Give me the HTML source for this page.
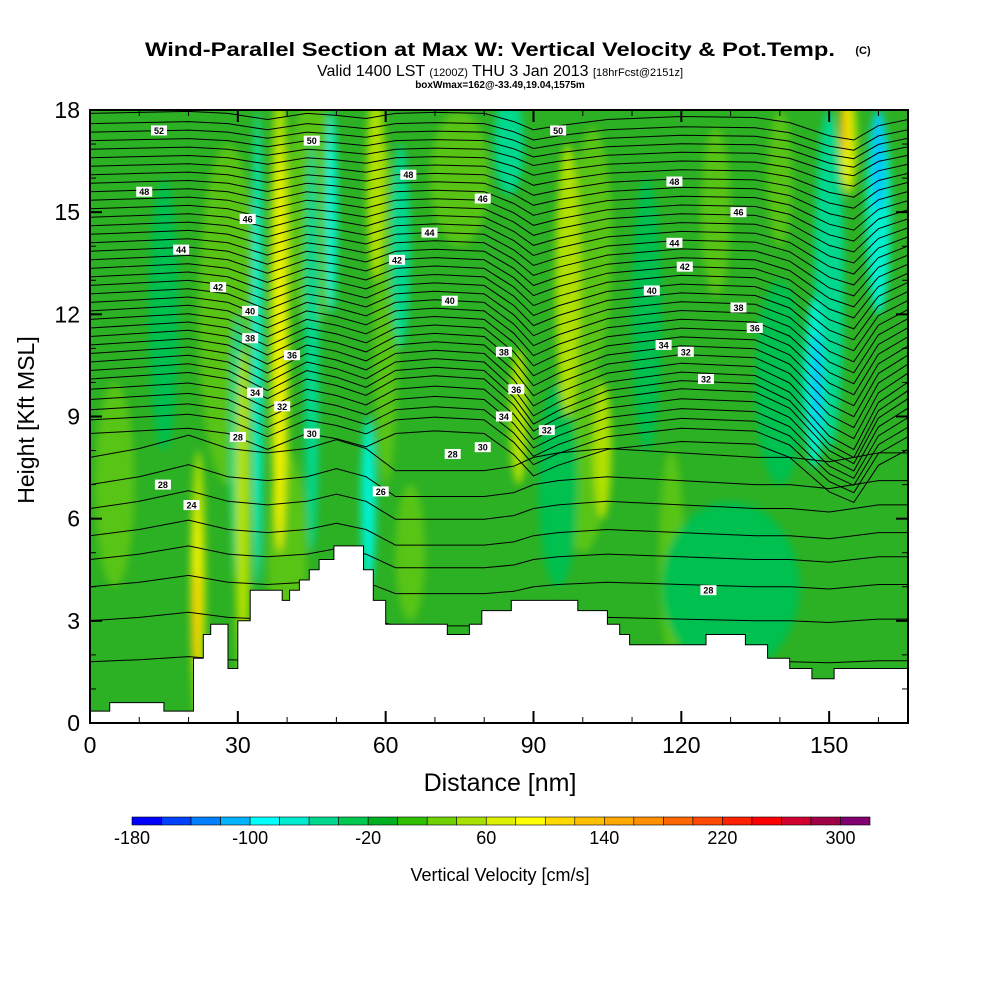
<!DOCTYPE html>
<html><head><meta charset="utf-8"><style>
html,body{margin:0;padding:0;background:#fff}
svg{display:block;font-family:"Liberation Sans",sans-serif}
</style></head><body>
<svg id="chart" width="1000" height="1000" viewBox="0 0 1000 1000">
<defs>
<clipPath id="plotclip"><rect x="90" y="110" width="818" height="613"/></clipPath>
<filter id="blur" x="-20%" y="-20%" width="140%" height="140%"><feGaussianBlur stdDeviation="4"/></filter>
</defs>
<text x="490" y="56" text-anchor="middle" font-size="19" font-weight="bold" textLength="690" lengthAdjust="spacingAndGlyphs">Wind-Parallel Section at Max W: Vertical Velocity &amp; Pot.Temp.</text>
<text x="863" y="54" text-anchor="middle" font-size="11" font-weight="bold">(C)</text>
<text x="500" y="76" text-anchor="middle" font-size="16">Valid 1400 LST <tspan font-size="11">(1200Z)</tspan> THU 3 Jan 2013 <tspan font-size="11">[18hrFcst@2151z]</tspan></text>
<text x="500" y="88" text-anchor="middle" font-size="10" font-weight="bold">boxWmax=162@-33.49,19.04,1575m</text>
<g id="field" clip-path="url(#plotclip)"></g>
<g id="contours" clip-path="url(#plotclip)"></g>
<g id="terrain"></g>
<g id="labels"></g>
<rect x="90" y="110" width="818" height="613" fill="none" stroke="#000" stroke-width="2"/>
<g id="axes"></g>
<text x="500" y="791" text-anchor="middle" font-size="25">Distance [nm]</text>
<text transform="translate(34,420) rotate(-90)" text-anchor="middle" font-size="23">Height [Kft MSL]</text>
<g id="colorbar"></g>
<text x="500" y="881" text-anchor="middle" font-size="18">Vertical Velocity [cm/s]</text>
</svg>
<script>
// ---- data ----
const xTicks=[0,30,60,90,120,150];
const yTicks=[0,3,6,9,12,15,18];
const cbLevels=[-180,-160,-140,-120,-100,-80,-60,-40,-20,0,20,40,60,80,100,120,140,160,180,200,220,240,260,280,300,320];
const cbLabels=[-180,-100,-20,60,140,220,300];
const cbColors=["#0000ff","#0040ff","#0080ff","#00b4ff","#00ffff","#00ecd0","#00d890","#00c850","#00b020","#30c000","#70d000","#a8e000","#dcf000","#ffff00","#ffd800","#ffc000","#ffa800","#ff9000","#ff6800","#ff4800","#ff2000","#ff0000","#d00030","#a00048","#800070"];
const terrX=[0,4,4,15,15,21,21,23,23,24.5,24.5,28,28,30,30,32.5,32.5,39,39,40.5,40.5,42.5,42.5,44.5,44.5,46.5,46.5,49.5,49.5,55.5,55.5,57.5,57.5,60,60,72.5,72.5,77,77,79.5,79.5,85.5,85.5,99,99,105,105,107.5,107.5,109.5,109.5,125,125,133,133,137.5,137.5,142,142,146.5,146.5,151,151,166];
const terrH=[0.35,0.35,0.6,0.6,0.35,0.35,1.9,1.9,2.6,2.6,2.9,2.9,1.6,1.6,3.0,3.0,3.9,3.9,3.6,3.6,3.9,3.9,4.2,4.2,4.5,4.5,4.8,4.8,5.2,5.2,4.5,4.5,3.6,3.6,2.9,2.9,2.6,2.6,2.9,2.9,3.3,3.3,3.6,3.6,3.3,3.3,2.9,2.9,2.6,2.6,2.3,2.3,2.6,2.6,2.3,2.3,1.9,1.9,1.6,1.6,1.3,1.3,1.6,1.6];
const blobX=[28,45,60,75,100,102,118,127,140,40,5,65,130,140,113,15,95,30,45,63,85,150,22,31,38.5,58,97,104,154,87,21.5,38.5,153.5,21.5,153,34,49,56.5,147,160,160,147.5];
const blobY=[12,15,12,16,8,14,5,15,16,5,7,5,4,10,12,12,7,8,11,14,17,13,4,6,12,16,13,8,17,9,4,11,17,3,17.5,11,15,6.5,10,15,16.5,10];
const blobRX=[6,5,2.5,6,5,4,2.5,3,2.5,4,4,3,14,5,3,3,4,1.5,1.5,2,3,3,1.5,1.5,2,1.8,2.5,1.8,1.8,1.8,1,1.2,1,0.6,0.7,1,1.2,1.5,2,2.5,1.2,0.8];
const blobRY=[5,3.5,5,2,3,3.5,3,2.5,2,3,3,2,2.5,3,4,4,3,4,6,3,1.5,5,4,5,7,3,4,2,1.5,2,2.5,6,1.3,1.5,0.8,7,3,2.5,2.5,3,1.5,1.5];
const blobC=["#58c414","#58c414","#58c414","#58c414","#58c414","#58c414","#58c414","#58c414","#58c414","#58c414","#58c414","#58c414","#05c050","#05c050","#05c050","#05c050","#05c050","#00d890","#00d890","#00d890","#00d890","#00d890","#b0e000","#b0e000","#b0e000","#b0e000","#b0e000","#b0e000","#b0e000","#b0e000","#f0f000","#f0f000","#f0f000","#ffc000","#ffc000","#00f0d0","#00f0d0","#00f0d0","#00f0d0","#00f0d0","#00c0ff","#00c0ff"];
const stX=[0,10,20,28,36,44,50,56,62,70,80,86,90,95,105,120,135,142,150,155,160,166];
const stDipUpper=[0,0.1,0.2,0,-0.6,0,-0.2,-0.5,0,0.1,0,-0.8,-1.6,-1.2,-0.6,-0.3,-0.4,-0.9,-2.2,-2.6,-1.2,-0.6];
const stDipLower=[0,0.2,0.5,0.2,0.1,0.2,0.4,0.2,-0.3,-0.3,-0.3,-0.2,0,0.1,0.2,0.1,0,0,-0.1,0,0.1,0.1];
const lineBase=[17.9,17.6,17.35,17.1,16.85,16.6,16.35,16.1,15.85,15.6,15.35,15.1,14.85,14.6,14.35,14.1,13.85,13.6,13.35,13.1,12.85,12.6,12.35,12.1,11.85,11.6,11.35,11.1,10.85,10.6,10.35,10.1,9.8,9.5,9.2,8.9,8.5,7.8,7.0,6.3,5.5,4.8,4.0,3.0,1.8];
const labX=[14,11,45,32,18.5,26,32.5,32.5,41,33.5,39,30,45,14.8,20.6,59,64.6,79.7,68.9,62.3,73,84,86.5,84,92.7,73.6,79.7,95,118.6,131.6,118.6,120.7,114,131.6,134.9,116.4,120.9,125,125.5];
const labY=[17.4,15.6,17.1,14.8,13.9,12.8,12.1,11.3,10.8,9.7,9.3,8.4,8.5,7.0,6.4,6.8,16.1,15.4,14.4,13.6,12.4,10.9,9.8,9.0,8.6,7.9,8.1,17.4,15.9,15.0,14.1,13.4,12.7,12.2,11.6,11.1,10.9,10.1,3.9];
const labT=["52","48","50","46","44","42","40","38","36","34","32","28","30","28","24","26","48","46","44","42","40","38","36","34","32","28","30","50","48","46","44","42","40","38","36","34","32","32","28"];
// ---- scales ----
const X0=90,X1=908,Y0=723,Y1=110;
const sx=v=>X0+(v/166)*(X1-X0);
const sy=v=>Y0-(v/18)*(Y0-Y1);
const NS="http://www.w3.org/2000/svg";
function mk(tag,attrs,parent){const e=document.createElementNS(NS,tag);for(const k in attrs)e.setAttribute(k,attrs[k]);parent.appendChild(e);return e;}
// field
const field=document.getElementById('field');
const bg=mk('rect',{x:X0,y:Y1,width:X1-X0,height:Y0-Y1,fill:'#2cb024'},field);


const bg2=mk('g',{filter:'url(#blur)'},field);
for(let i=0;i<blobX.length;i++){
  const e=mk('ellipse',{cx:sx(blobX[i]),cy:sy(blobY[i]),rx:(blobRX[i]/166)*(X1-X0),ry:(blobRY[i]/18)*(Y0-Y1),fill:blobC[i]},bg2);
  
  
}
// contours
const cg=document.getElementById('contours');
for(let j=0;j<lineBase.length;j++){
  const b=lineBase[j];
  let wU=b>=8?Math.max(0.3,1-Math.abs(b-10.5)/9):0;
  let wL=b<8?1:0;
  let d='';
  for(let k=0;k<stX.length;k++){
    const h=b+wU*stDipUpper[k]+wL*stDipLower[k]*(b/6);
    d+=(k?'L':'M')+sx(stX[k]).toFixed(1)+','+sy(h).toFixed(1);
  }
  const p=mk('path',{d:d,fill:'none',stroke:'#000','stroke-width':1},cg);
  
  
}
// terrain
const tg=document.getElementById('terrain');
let td='M'+sx(0)+','+sy(0);
for(let i=0;i<terrX.length;i++) td+='L'+sx(terrX[i]).toFixed(1)+','+sy(terrH[i]).toFixed(1);
td+='L'+sx(166)+','+sy(0)+'Z';
const tp=mk('path',{d:td,fill:'#fff',stroke:'#000','stroke-width':1},tg);


// labels
const lg=document.getElementById('labels');
for(let i=0;i<labX.length;i++){
  const x=sx(labX[i]),y=sy(labY[i]);
  const r=mk('rect',{x:x-8,y:y-5,width:16,height:10,fill:'#fff'},lg);
  
  
  const t=mk('text',{x:x,y:y+3.5,'text-anchor':'middle','font-size':9,'font-weight':'bold'},lg);
  t.textContent=labT[i];
  
  
}
// axes
const ag=document.getElementById('axes');
for(let v=0;v<=160;v+=10){
  const len=v%30===0?12:6;
  const l1=mk('line',{x1:sx(v),x2:sx(v),y1:Y0,y2:Y0-len,stroke:'#000','stroke-width':v%30===0?2:1},ag);
  
  
  const l2=mk('line',{x1:sx(v),x2:sx(v),y1:Y1,y2:Y1+len,stroke:'#000','stroke-width':v%30===0?2:1},ag);
  
  
}
xTicks.forEach(v=>{
  const t=mk('text',{x:sx(v),y:753,'text-anchor':'middle','font-size':23},ag);
  t.textContent=v;
  
  
});
for(let v=0;v<=18;v+=1){
  const len=v%3===0?12:6;
  const l=mk('line',{x1:X0,x2:X0+len,y1:sy(v),y2:sy(v),stroke:'#000','stroke-width':v%3===0?2:1},ag);
  
  
  const l2=mk('line',{x1:X1,x2:X1-len,y1:sy(v),y2:sy(v),stroke:'#000','stroke-width':v%3===0?2:1},ag);
  
  
}
yTicks.forEach(v=>{
  const t=mk('text',{x:80,y:sy(v)+8,'text-anchor':'end','font-size':23},ag);
  t.textContent=v;
  
  
});
// colorbar
const cb=document.getElementById('colorbar');
const CB0=132,CB1=870,cbY=817,cbH=8;
const cx=v=>CB0+(v-cbLevels[0])/(cbLevels[cbLevels.length-1]-cbLevels[0])*(CB1-CB0);
for(let i=0;i<cbColors.length;i++){
  const r=mk('rect',{x:cx(cbLevels[i]),y:cbY,width:cx(cbLevels[i+1])-cx(cbLevels[i]),height:cbH,fill:cbColors[i],stroke:'#000','stroke-width':0.6},cb);
  
  
}
cbLabels.forEach(v=>{
  const t=mk('text',{x:cx(v),y:844,'text-anchor':'middle','font-size':18},cb);
  t.textContent=v;
  
  
});
</script>
</body></html>
